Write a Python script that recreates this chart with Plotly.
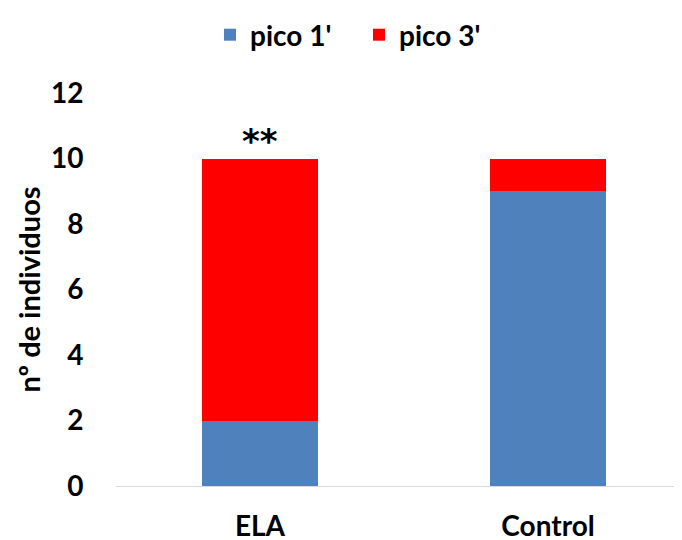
import plotly.graph_objects as go

categories = ["ELA", "Control"]
pico1 = [2, 9]
pico3 = [8, 1]
series_names = ["pico 1'", "pico 3'"]
y_ticks = [0, 2, 4, 6, 8, 10, 12]
y_title = "nº de individuos"
annotation_text = "**"

FONT = "Lato, 'Open Sans', sans-serif"
FS = 28

fig = go.Figure()
fig.add_bar(x=categories, y=pico1, name=series_names[0], marker=dict(color="#4F81BD", line=dict(width=0)), width=0.4)
fig.add_bar(x=categories, y=pico3, name=series_names[1], marker=dict(color="#FF0000", line=dict(width=0)), width=0.4)

# page has an 8px body margin; figure sized to fill the visible window
OFF = 8
W, H = 682 - OFF, 540 - OFF
L, T = 116 - OFF, 93 - OFF
R = W - (680 - OFF)
B = H - (486 - OFF)
fig.update_layout(
    barmode="stack",
    width=W, height=H,
    margin=dict(l=L, r=R, t=T, b=B, autoexpand=False),
    plot_bgcolor="white", paper_bgcolor="white",
    font=dict(family=FONT, size=FS, color="black"),
    showlegend=True,
    legend=dict(orientation="h", xref="container", yref="container",
                x=(210 - OFF) / W, y=1 - (35 - OFF) / H, xanchor="left", yanchor="middle",
                font=dict(family=FONT, size=FS, color="black", weight="bold"),
                itemwidth=30, entrywidth=104, entrywidthmode="pixels", traceorder="normal"),
    xaxis=dict(range=[-0.5, 1.458], showline=True, linecolor="#D9D9D9", linewidth=1,
               ticks="outside", ticklen=15, tickcolor="rgba(0,0,0,0)", automargin=False,
               tickfont=dict(family=FONT, size=FS, weight="bold")),
    yaxis=dict(range=[0, 12], tickvals=y_ticks, showgrid=False, zeroline=False, showline=False,
               ticks="outside", ticklen=26, tickcolor="rgba(0,0,0,0)", automargin=False,
               tickfont=dict(family=FONT, size=FS, weight="bold")),
)

plot_w = W - L - R
fig.add_annotation(xref="paper", yref="paper", x=(28 - OFF - L) / plot_w, y=0.5, text=y_title,
                   textangle=-90, showarrow=False, xanchor="center", yanchor="middle",
                   font=dict(family=FONT, size=29, weight="bold", color="black"))

fig.add_annotation(x=categories[0], y=pico1[0] + pico3[0], text=annotation_text, showarrow=False,
                   yanchor="bottom", yshift=-4,
                   font=dict(family="DejaVu Sans", size=34, weight="bold", color="black"))

fig.write_html("out.html")
